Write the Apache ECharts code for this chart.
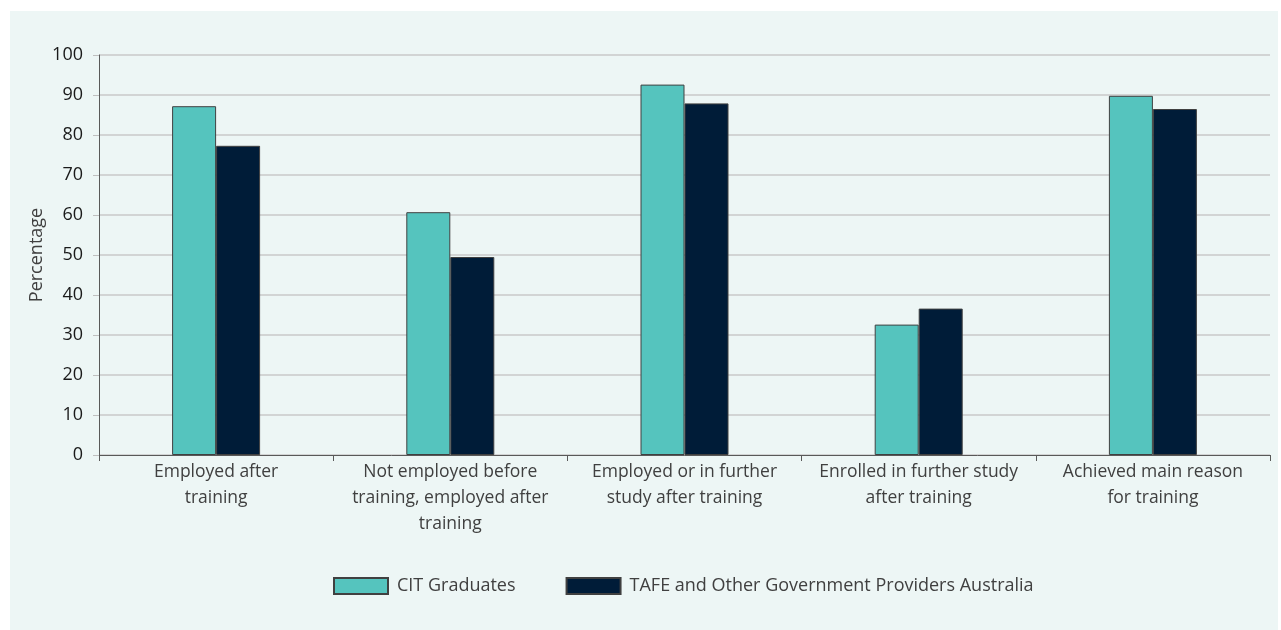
<!DOCTYPE html>
<html>
<head>
<meta charset="utf-8">
<script src="https://cdn.jsdelivr.net/npm/echarts@6/dist/echarts.min.js"></script>
<style>
html,body{margin:0;padding:0;background:#ffffff;}
#wrap{position:relative;width:1281px;height:630px;}
#bg{position:absolute;left:10px;top:11px;width:1268px;height:619px;background:#EDF6F5;}
#chart{position:absolute;left:0;top:0;width:1281px;height:630px;}
</style>
</head>
<body>
<div id="wrap"><div id="bg"></div><div id="chart"></div></div>
<script>
const categories = [
  "Employed after\ntraining",
  "Not employed before\ntraining, employed after\ntraining",
  "Employed or in further\nstudy after training",
  "Enrolled in further study\nafter training",
  "Achieved main reason\nfor training"
];
const citGraduates = [87.2, 60.7, 92.6, 32.6, 89.8];
const tafeAustralia = [77.3, 49.5, 87.9, 36.6, 86.5];
const seriesNames = ["CIT Graduates", "TAFE and Other Government Providers Australia"];
const yTicks = {min: 0, max: 100, interval: 10};

const chart = echarts.init(document.getElementById('chart'), null, {renderer: 'canvas'});
const fontFam = '"Open Sans", "Noto Sans", sans-serif';
chart.setOption({
  backgroundColor: 'transparent',
  animation: false,
  grid: {left: 99, right: 11, top: 55, bottom: 175, containLabel: false},
  legend: {
    left: 328, top: 572,
    itemWidth: 54, itemHeight: 16, itemGap: 50,
    icon: 'rect',
    textStyle: {fontFamily: fontFam, fontSize: 18, color: '#404040', padding: [0, 0, 0, 4]},
    data: seriesNames
  },
  xAxis: {
    type: 'category',
    data: categories,
    axisLine: {lineStyle: {color: '#595959', width: 1}},
    axisTick: {show: true, length: 6, lineStyle: {color: '#595959'}},
    axisLabel: {fontFamily: fontFam, fontSize: 17.5, color: '#404040', lineHeight: 26, margin: 4, interval: 0}
  },
  yAxis: {
    type: 'value',
    min: yTicks.min, max: yTicks.max, interval: yTicks.interval,
    name: 'Percentage',
    nameLocation: 'middle',
    nameGap: 53,
    nameMoveOverlap: false,
    nameRotate: 90,
    nameTextStyle: {fontFamily: fontFam, fontSize: 18, color: '#404040'},
    axisLine: {show: true, lineStyle: {color: '#595959', width: 1}},
    axisTick: {show: true, length: 6, lineStyle: {color: '#BFBFBF'}},
    splitLine: {show: true, lineStyle: {color: '#C8C8C8', width: 1.5}},
    axisLabel: {fontFamily: fontFam, fontSize: 18, color: '#1a1a1a', margin: 16}
  },
  series: [
    {
      name: seriesNames[0], type: 'bar', data: citGraduates,
      barWidth: 44, barGap: '0%',
      itemStyle: {color: '#55C4BE', borderColor: '#404040', borderWidth: 1}
    },
    {
      name: seriesNames[1], type: 'bar', data: tafeAustralia,
      barWidth: 44, barGap: '0%',
      itemStyle: {color: '#001C38', borderColor: '#404040', borderWidth: 1}
    }
  ]
});
</script>
</body>
</html>
